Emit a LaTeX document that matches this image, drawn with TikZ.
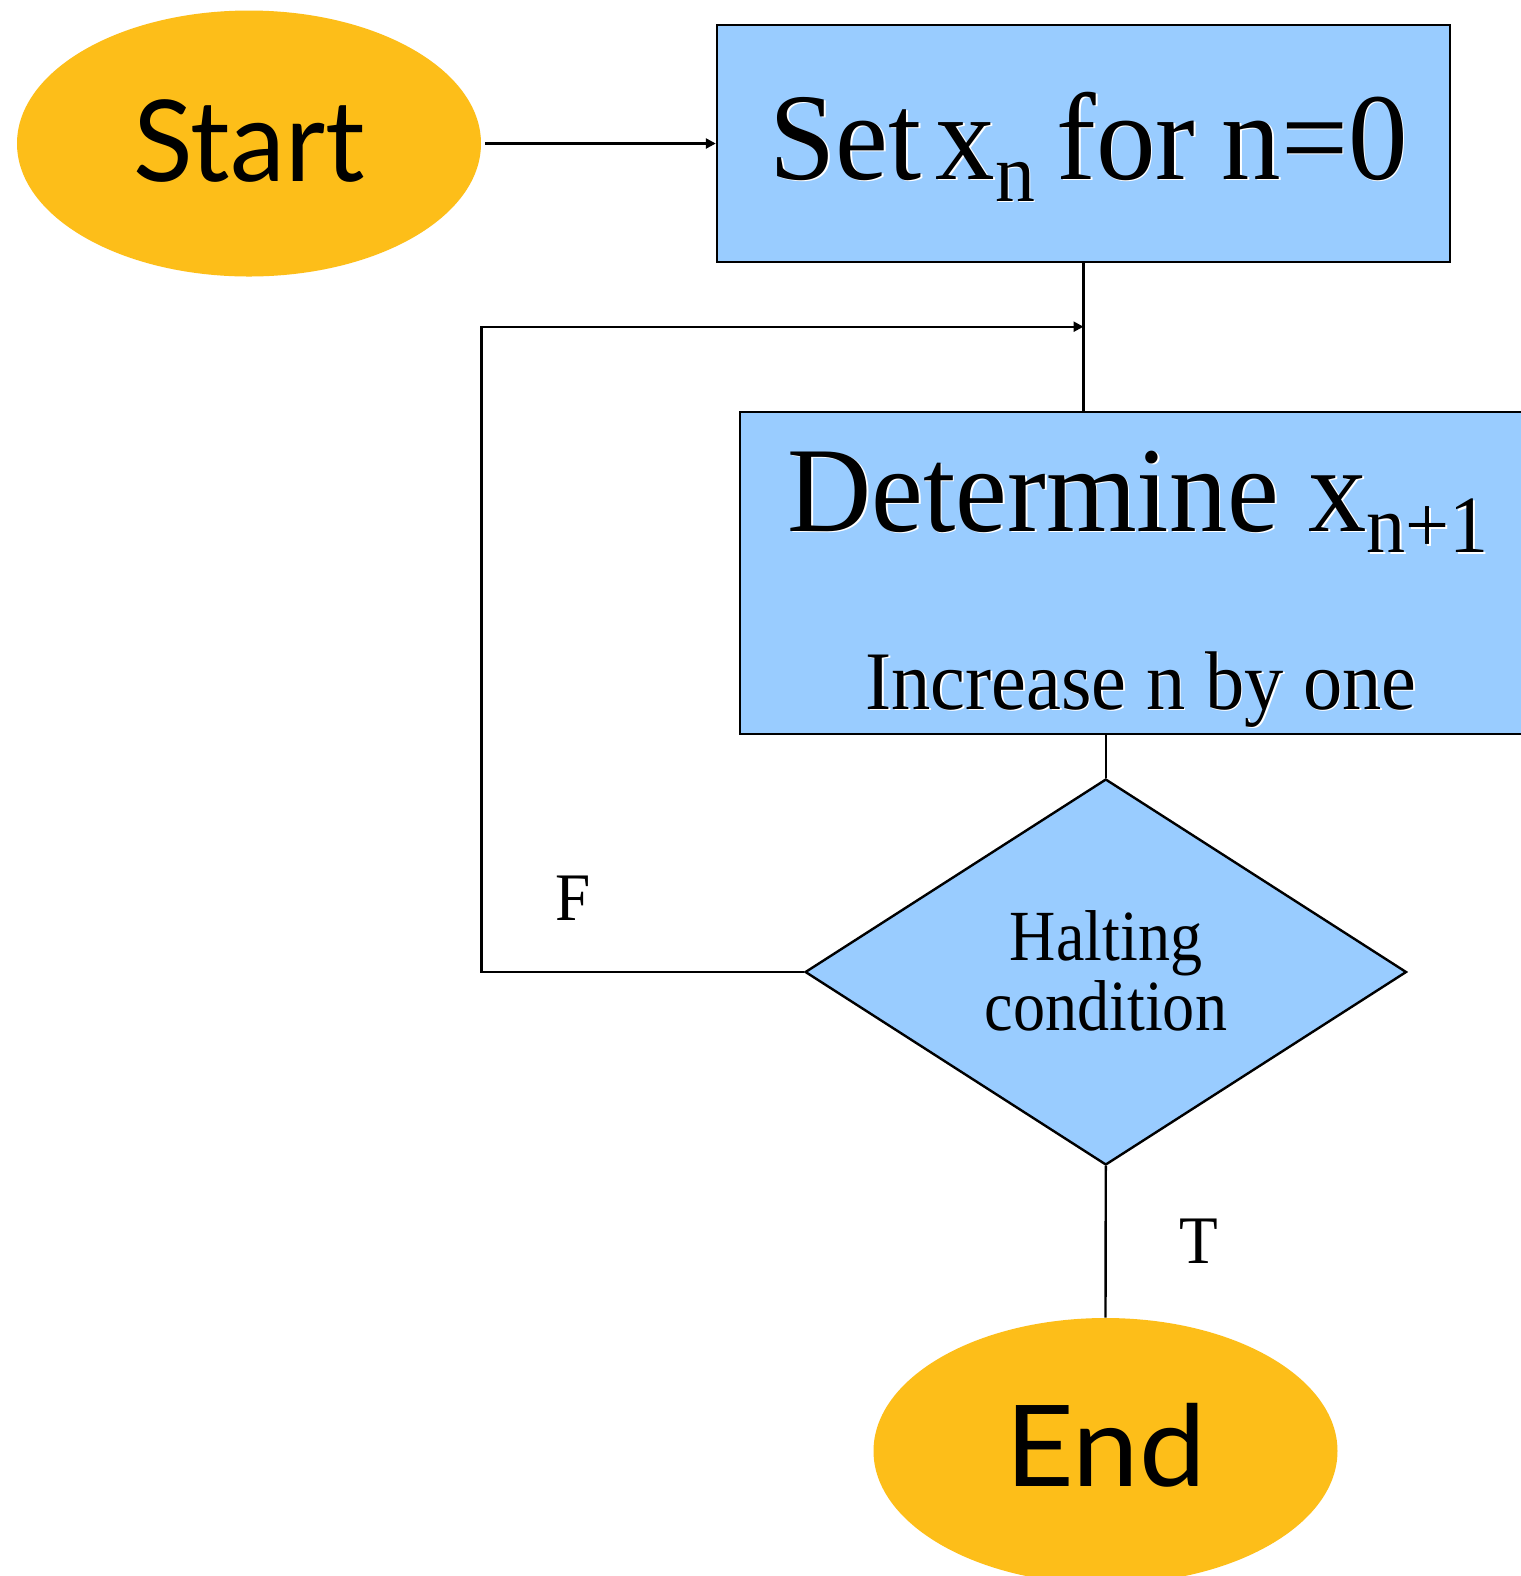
\documentclass[tikz,border=0pt]{standalone}
\usepackage{fontspec}
\setmainfont{Liberation Serif}
\newfontfamily\latof{Lato}
\usetikzlibrary{shapes.geometric,arrows.meta}
\definecolor{orng}{RGB}{253,190,25}
\definecolor{lblue}{RGB}{153,204,255}
\newcommand\lowsub[1]{\raisebox{-0.18em}{\scalebox{0.67}{#1}}}
\newcommand\gnode[4]{\node[#1,text=white,xshift=0.8pt,yshift=-0.8pt] (#2-glow) at #3 {#4};\node[#1] (#2) at #3 {#4};}
\begin{document}
\begin{tikzpicture}[x=0.5pt,y=-0.5pt,
  term/.style={ellipse, fill=orng, draw=none, minimum width=232pt, minimum height=133pt, inner sep=0pt},
  procbox/.style={rectangle, fill=lblue, draw=black, line width=1.2pt, inner sep=0pt},
  decision/.style={diamond, fill=lblue, draw=black, line width=1.2pt, inner sep=0pt, minimum width=300.7pt, minimum height=193pt},
  conn/.style={draw=black, line width=1.2pt},
  arr/.style={conn, -{Triangle[length=5pt,width=5pt]}},
  txt/.style={inner sep=0pt, text=black},
]
\useasboundingbox (0,0) rectangle (1521,1576);
\fill[white] (0,0) rectangle (1521,1576);

\node[term] (start) at (249,143.5) {};
\node[procbox, minimum width=366.5pt, minimum height=118.5pt] (box1) at (1083.5,143.5) {};
\node[procbox, minimum width=395pt, minimum height=161pt] (box2) at (1135,573) {};
\node[decision] (dec) at (1105.8,972) {};
\node[term] (end) at (1105.5,1451) {};

% connectors
\draw[arr] ([xshift=2pt]start.east) -- (box1.west);
\draw[conn] (box1.south) -- (box1.south |- box2.north);
\coordinate (loopTop) at (481.5,326.7);
\coordinate (merge) at (box1.south |- loopTop);
\draw[arr] (dec.west) -| (loopTop) -- (merge);
\draw[conn] (dec.north |- box2.south) -- (dec.north);
\draw[conn] (dec.south) -- (end.north);

% texts
\node[txt, anchor=base] (starttxt) at (249,181) {\scalebox{0.975}[1]{\latof\fontsize{56.5}{60}\selectfont Start}};
\node[txt, anchor=base] (endtxt) at (1105.5,1486) {\scalebox{1.055}[1]{\latof\fontsize{56.5}{60}\selectfont End}};
\gnode{txt, anchor=base west}{settxt}{(769,179)}{\scalebox{0.96}[1]{\fontsize{62}{62}\selectfont Set\hspace{0.12em}x\lowsub{n}\hspace{0.18em}for\hspace{0.22em}n=0}}
\gnode{txt, anchor=base west}{dettxt}{(787,531)}{\scalebox{0.96}[1]{\fontsize{60.7}{62}\selectfont Determine x\lowsub{n+1}}}
\gnode{txt, anchor=base west}{inctxt}{(865,709)}{\scalebox{0.943}[1]{\fontsize{41.6}{42}\selectfont Increase n by one}}
\node[txt, anchor=base] (halt1) at (1106,960) {\scalebox{0.89}[1]{\fontsize{36}{36}\selectfont Halting}};
\node[txt, anchor=base] (halt2) at (1106,1030) {\scalebox{0.89}[1]{\fontsize{36}{36}\selectfont condition}};
\node[txt, anchor=base west] (flab) at (555,920) {\scalebox{0.93}[1]{\fontsize{34}{34}\selectfont F}};
\node[txt, anchor=base west] (tlab) at (1179,1263) {\scalebox{0.93}[1]{\fontsize{34}{34}\selectfont T}};
\end{tikzpicture}
\end{document}
